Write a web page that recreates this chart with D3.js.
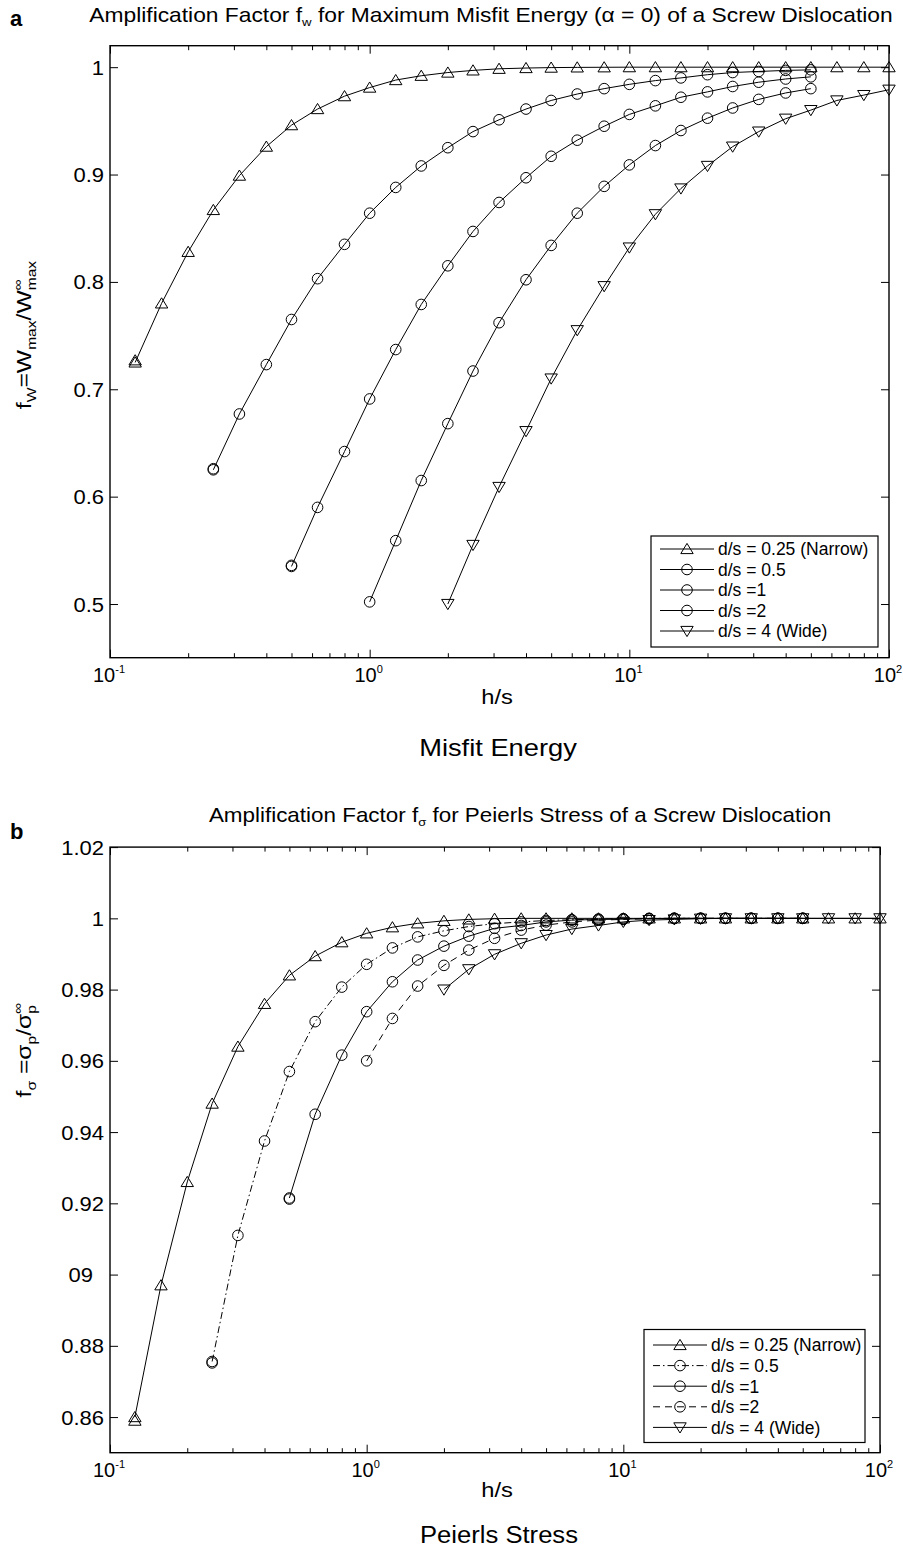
<!DOCTYPE html>
<html><head><meta charset="utf-8">
<script src="https://cdn.jsdelivr.net/npm/d3@7"></script>
<style>
body{margin:0;background:#fff}
svg{display:block}
text{font-family:"Liberation Sans",Arial,Helvetica,sans-serif;fill:#000}
</style>
</head><body>
<svg id="c" width="903" height="1556"></svg>
<script>
// ---------- DATA ----------
const hs = [0.125,0.158,0.2,0.25,0.315,0.4,0.5,0.63,0.8,1,1.26,1.58,2,2.5,3.15,4,5,6.3,8,10,12.6,15.8,20,25,31.5,40,50,63,80,100];
const seriesNames = ["d/s = 0.25 (Narrow)","d/s = 0.5","d/s =1","d/s =2","d/s = 4 (Wide)"];
const seriesStart = [0,3,6,9,12]; // index into hs where each series begins
const xTickValues = [0.1,1,10,100];
const xTickExp = ["-1","0","1","2"];

// (a) Misfit energy amplification factor f_W
const energy025 = [0.725,0.780,0.828,0.867,0.899,0.926,0.946,0.961,0.973,0.981,0.988,0.992,0.995,0.997,0.9985,0.9992,0.9996,0.9998,0.9999,1,1,1,1,1,1,1,1,1,1,1];
const energy05  = [0.625,0.677,0.723,0.765,0.803,0.835,0.864,0.888,0.908,0.925,0.940,0.951,0.961,0.969,0.975,0.980,0.984,0.9875,0.990,0.993,0.995,0.996,0.997,0.9975];
const energy1   = [0.535,0.590,0.642,0.691,0.737,0.779,0.815,0.847,0.874,0.897,0.917,0.932,0.945,0.956,0.964,0.972,0.977,0.982,0.986,0.989,0.991];
const energy2   = [0.502,0.559,0.615,0.668,0.717,0.762,0.802,0.834,0.864,0.889,0.909,0.927,0.941,0.9525,0.962,0.970,0.976,0.980];
const energy4   = [0.500,0.555,0.609,0.661,0.710,0.755,0.796,0.832,0.863,0.887,0.908,0.926,0.940,0.952,0.960,0.969,0.974,0.979];
const energyEcho = [0.727,0.626,0.536,null,null]; // repeated first point
const energyYTicks = [0.5,0.6,0.7,0.8,0.9,1];
const energyYLabels = ["0.5","0.6","0.7","0.8","0.9","1"];

// (b) Peierls stress amplification factor f_sigma
const stress025 = [0.860,0.897,0.926,0.948,0.964,0.976,0.984,0.9894,0.9933,0.9958,0.9975,0.9986,0.9993,0.9997,0.9999,1,1,1,1,1,1,1,1,1,1,1,1,1,1,1];
const stress05  = [0.8756,0.911,0.9375,0.957,0.971,0.9807,0.9871,0.9917,0.9948,0.9965,0.9977,0.9985,0.999,0.9994,0.9996,0.9998,0.9999,1,1,1,1,1,1,1];
const stress1   = [0.9215,0.945,0.9616,0.9738,0.9822,0.9883,0.9922,0.995,0.9972,0.998,0.999,0.9995,0.9997,0.9998,0.9999,1,1,1,1,1,1];
const stress2   = [0.960,0.9719,0.981,0.9868,0.9911,0.9944,0.9967,0.9981,0.999,0.9995,0.9997,0.9999,1,1,1,1,1,1];
const stress4   = [0.980,0.9857,0.9899,0.993,0.9953,0.997,0.998,0.999,0.9995,0.9997,0.9999,1,1,1,1,1,1,1];
const stressEcho = [0.859,0.8752,0.9212,null,null];
const stressYTicks = [0.86,0.88,0.9,0.92,0.94,0.96,0.98,1,1.02];
const stressYLabels = ["0.86","0.88","09\u2002","0.92","0.94","0.96","0.98","1","1.02"];

const markers = ["up","circle","circle","circle","down"];

// ---------- DRAW ----------
const svg = d3.select("#c");

function rich(parent, parts, anchor){
  const g = parent.append("g");
  let x = 0, stackStart = null, stackW = 0;
  parts.forEach(p=>{
    const t = g.append("text").attr("x", x).attr("y", p.dy||0)
      .style("font-size", p.fs+"px").style("white-space","pre").text(p.t);
    if(p.bold) t.style("font-weight","bold");
    const w = t.node().getComputedTextLength();
    if(p.stack){ stackStart = x; stackW = w; }
    else if(stackStart!==null){ x = stackStart + Math.max(w, stackW); stackStart=null; }
    else x += w;
  });
  const off = anchor==="middle" ? -x/2 : (anchor==="end" ? -x : 0);
  g.selectAll("text").attr("x", function(){ return +d3.select(this).attr("x") + off; });
  return g;
}

function marker(g, type, cx, cy){
  if(type==="circle"){
    g.append("circle").attr("cx",cx).attr("cy",cy).attr("r",5.3)
      .attr("fill","none").attr("stroke","#000").attr("stroke-width",1);
  } else {
    const s = type==="up" ? 1 : -1;
    g.append("path")
      .attr("d", `M0,${-5.6*s}L${6.2},${4.6*s}L${-6.2},${4.6*s}Z`)
      .attr("transform",`translate(${cx},${cy})`)
      .attr("fill","none").attr("stroke","#000").attr("stroke-width",1);
  }
}

function panel(o){
  const x = d3.scaleLog().domain([0.1,100]).range([o.l,o.r]);
  const y = d3.scaleLinear().domain(o.yDomain).range([o.b,o.t]);
  const g = svg.append("g");

  const minor = [];
  [0.1,1,10].forEach(d=>{ for(let k=2;k<=9;k++) minor.push(d*k); });

  const axes = g.append("g");
  const addAxis = (gen, tr) => {
    const a = axes.append("g").attr("transform",tr).call(gen);
    a.select(".domain").remove();
    a.selectAll("text").remove();
    a.selectAll("line").attr("stroke","#000").attr("stroke-width",1);
  };
  addAxis(d3.axisBottom(x).tickValues(xTickValues).tickSize(-8), `translate(0,${o.b})`);
  addAxis(d3.axisBottom(x).tickValues(minor).tickSize(-4.5), `translate(0,${o.b})`);
  addAxis(d3.axisTop(x).tickValues(xTickValues).tickSize(-8), `translate(0,${o.t})`);
  addAxis(d3.axisTop(x).tickValues(minor).tickSize(-4.5), `translate(0,${o.t})`);
  addAxis(d3.axisLeft(y).tickValues(o.yTicks).tickSize(-8), `translate(${o.l},0)`);
  addAxis(d3.axisRight(y).tickValues(o.yTicks).tickSize(-8), `translate(${o.r},0)`);

  g.append("rect").attr("x",o.l).attr("y",o.t).attr("width",o.r-o.l).attr("height",o.b-o.t)
    .attr("fill","none").attr("stroke","#000").attr("stroke-width",1.4);

  // y tick labels
  o.yTicks.forEach((v,i)=>{
    const tg = g.append("g").attr("transform",`translate(${o.l-6},${y(v)}) scale(1.1,1.05)`);
    tg.append("text").attr("x",0).attr("y",0).attr("dy","0.36em")
      .attr("text-anchor","end").style("font-size","20px").style("white-space","pre")
      .text(o.yLabels[i]);
  });
  // x tick labels
  xTickValues.forEach((v,i)=>{
    const lg = g.append("g").attr("transform",`translate(${x(v)-1},${o.b+o.xLabDy})`);
    rich(lg,[{t:"10",fs:20},{t:xTickExp[i],fs:11,dy:-9}],"middle");
  });

  // series
  const lineGen = d3.line().x(d=>x(d[0])).y(d=>y(d[1]));
  o.series.forEach((vals,si)=>{
    const pts = vals.map((v,i)=>[hs[seriesStart[si]+i], v]);
    g.append("path").attr("d",lineGen(pts)).attr("fill","none").attr("stroke","#000")
      .attr("stroke-width",1).attr("stroke-dasharray",o.dash[si]);
    const mg = g.append("g");
    pts.forEach(p=>marker(mg, markers[si], x(p[0]), y(p[1])));
    if(o.echo[si]!==null) marker(mg, markers[si], x(hs[seriesStart[si]]), y(o.echo[si]));
  });

  // legend
  const L = o.leg;
  const lg = g.append("g");
  lg.append("rect").attr("x",L.x).attr("y",L.y).attr("width",L.w).attr("height",L.h)
    .attr("fill","#fff").attr("stroke","#000").attr("stroke-width",1.2);
  seriesNames.forEach((name,i)=>{
    const yy = L.y + L.pad + i*L.row;
    lg.append("line").attr("x1",L.x+9).attr("x2",L.x+63).attr("y1",yy).attr("y2",yy)
      .attr("stroke","#000").attr("stroke-width",1).attr("stroke-dasharray",o.dash[i]);
    marker(lg, markers[i], L.x+36, yy);
    lg.append("text").attr("x",L.x+67).attr("y",yy).attr("dy","0.36em")
      .style("font-size","17.5px").text(name);
  });
  return {x,y,g};
}

// Panel a
panel({
  l:110, r:889, t:45.7, b:657.7, yDomain:[0.45,1.02],
  yTicks:energyYTicks, yLabels:energyYLabels, xLabDy:24,
  series:[energy025,energy05,energy1,energy2,energy4],
  echo:energyEcho,
  dash:[null,null,null,null,null],
  leg:{x:651,y:536,w:227,h:111,pad:13,row:20.5}
});
// Panel b
panel({
  l:110, r:880, t:847.1, b:1452.7, yDomain:[0.85,1.02],
  yTicks:stressYTicks, yLabels:stressYLabels, xLabDy:24,
  series:[stress025,stress05,stress1,stress2,stress4],
  echo:stressEcho,
  dash:[null,"7,3,1.5,3",null,"7,5",null],
  leg:{x:644,y:1329.5,w:221,h:113,pad:15.5,row:20.6}
});

// Titles and labels
rich(svg.append("g").attr("transform","translate(10,26)"),[{t:"a",fs:22,bold:true}],"start");
rich(svg.append("g").attr("transform","translate(10,839)"),[{t:"b",fs:22,bold:true}],"start");

rich(svg.append("g").attr("transform","translate(491,22) scale(1.2,1.05)"),[
  {t:"Amplification Factor f",fs:19},{t:"w",fs:11,dy:4},
  {t:" for Maximum Misfit Energy (",fs:19},{t:"α",fs:19},{t:" = 0) of a Screw Dislocation",fs:19}
],"middle");
rich(svg.append("g").attr("transform","translate(520,822) scale(1.18,1.05)"),[
  {t:"Amplification Factor f",fs:19},{t:"σ",fs:11,dy:4},
  {t:" for Peierls Stress of a Screw Dislocation",fs:19}
],"middle");

rich(svg.append("g").attr("transform","translate(497,704) scale(1.25,1.1)"),[{t:"h/s",fs:19}],"middle");
rich(svg.append("g").attr("transform","translate(498,756) scale(1.3,1.1)"),[{t:"Misfit Energy",fs:21}],"middle");
rich(svg.append("g").attr("transform","translate(497,1497) scale(1.25,1.1)"),[{t:"h/s",fs:19}],"middle");
rich(svg.append("g").attr("transform","translate(499,1543) scale(1.22,1.1)"),[{t:"Peierls Stress",fs:21}],"middle");

rich(svg.append("g").attr("transform","translate(31,335) rotate(-90) scale(1.3,1.05)"),[
  {t:"f",fs:19},{t:"W",fs:12,dy:5},{t:"=W",fs:19},{t:"max",fs:12,dy:5},{t:"/W",fs:19},
  {t:"∞",fs:12,dy:-9,stack:true},{t:"max",fs:12,dy:5}
],"middle");
rich(svg.append("g").attr("transform","translate(31,1050) rotate(-90) scale(1.3,1.05)"),[
  {t:"f",fs:19},{t:"σ",fs:12,dy:5},{t:" =σ",fs:19},{t:"p",fs:12,dy:5},{t:"/σ",fs:19},
  {t:"∞",fs:12,dy:-9,stack:true},{t:"p",fs:12,dy:5}
],"middle");
</script>
</body></html>
